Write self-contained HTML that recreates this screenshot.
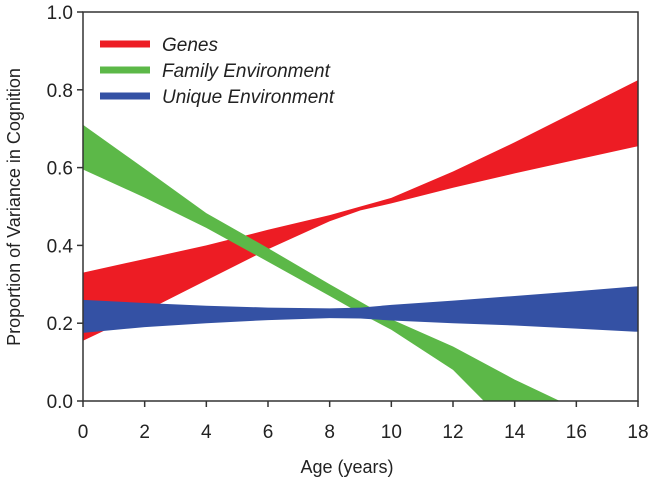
<!DOCTYPE html>
<html><head><meta charset="utf-8"><style>
html,body{margin:0;padding:0;background:#fff;}
svg{display:block;font-family:"Liberation Sans",Arial,sans-serif;}
</style></head><body>
<svg id="chart" width="654" height="483" viewBox="0 0 654 483">
<defs><clipPath id="plotclip"><rect x="83" y="12" width="555" height="389"/></clipPath></defs>
<g id="bands" clip-path="url(#plotclip)"></g>
<g id="axes"></g>
<g id="legend"></g>
</svg>
<script>
const ages = [0, 2, 4, 6, 8, 9, 10, 12, 14, 16, 18];
const genesUpper = [0.33, 0.365, 0.40, 0.44, 0.478, 0.50, 0.522, 0.59, 0.665, 0.745, 0.825];
const genesLower = [0.155, 0.23, 0.31, 0.39, 0.462, 0.49, 0.508, 0.548, 0.585, 0.62, 0.655];
const familyUpper = [0.71, 0.597, 0.483, 0.393, 0.30, 0.255, 0.21, 0.14, 0.055, -0.02, -0.09];
const familyLower = [0.595, 0.523, 0.445, 0.358, 0.27, 0.225, 0.183, 0.08, -0.08, -0.16, -0.24];
const uniqueUpper = [0.26, 0.252, 0.245, 0.24, 0.238, 0.24, 0.247, 0.258, 0.27, 0.282, 0.295];
const uniqueLower = [0.175, 0.19, 0.20, 0.208, 0.213, 0.212, 0.207, 0.2, 0.194, 0.186, 0.178];
const xTicks = [0, 2, 4, 6, 8, 10, 12, 14, 16, 18];
const yTicks = [0.0, 0.2, 0.4, 0.6, 0.8, 1.0];
const seriesNames = ["Genes", "Family Environment", "Unique Environment"];

const NS = "http://www.w3.org/2000/svg";
const X0 = 83, X1 = 638, Y0 = 401, Y1 = 12;
function xs(v){ return X0 + (v - 0) / 18 * (X1 - X0); }
function ys(v){ return Y0 - v * (Y0 - Y1); }
function mk(tag, attrs, parent){ const e = document.createElementNS(NS, tag); for (const k in attrs) e.setAttribute(k, attrs[k]); parent.appendChild(e); return e; }

const bands = document.getElementById('bands');
function band(up, lo, color, name){
  let d = "";
  ages.forEach((a,i)=>{ d += (i ? "L" : "M") + xs(a).toFixed(1) + "," + ys(up[i]).toFixed(1); });
  for (let i = ages.length - 1; i >= 0; i--) d += "L" + xs(ages[i]).toFixed(1) + "," + ys(lo[i]).toFixed(1);
  d += "Z";
  const p = mk('path', {d: d, fill: color}, bands);
  
  
}
band(genesUpper, genesLower, "#ed1c24", "genes-band");
band(familyUpper, familyLower, "#5cb848", "family-environment-band");
band(uniqueUpper, uniqueLower, "#3451a4", "unique-environment-band");

const axes = document.getElementById('axes');
const frame = mk('rect', {x: X0, y: Y1, width: X1 - X0, height: Y0 - Y1, fill: "none", stroke: "#333", "stroke-width": 1.5}, axes);


xTicks.forEach(t => {
  const l = mk('line', {x1: xs(t), x2: xs(t), y1: Y0, y2: Y0 + 6, stroke: "#333", "stroke-width": 1.5}, axes);
  
  
  const tx = mk('text', {x: xs(t), y: 438, "text-anchor": "middle", "font-size": 19, fill: "#222"}, axes);
  tx.textContent = t;
  
  
});
yTicks.forEach(t => {
  const l = mk('line', {x1: X0 - 6, x2: X0, y1: ys(t), y2: ys(t), stroke: "#333", "stroke-width": 1.5}, axes);
  
  
  const tx = mk('text', {x: 73, y: ys(t) + 7, "text-anchor": "end", "font-size": 19, fill: "#222"}, axes);
  tx.textContent = t.toFixed(1);
  
  
});
const xt = mk('text', {x: 347, y: 473, "text-anchor": "middle", "font-size": 18, fill: "#222"}, axes);
xt.textContent = "Age (years)";


const yt = mk('text', {x: 0, y: 0, "text-anchor": "middle", "font-size": 18, fill: "#222", transform: "translate(20,207) rotate(-90)"}, axes);
yt.textContent = "Proportion of Variance in Cognition";



const legend = document.getElementById('legend');
const colors = ["#ed1c24", "#5cb848", "#3451a4"];
seriesNames.forEach((n, i) => {
  const y = 44 + i * 26;
  const l = mk('line', {x1: 100, x2: 150, y1: y, y2: y, stroke: colors[i], "stroke-width": 7}, legend);
  
  
  const t = mk('text', {x: 162, y: y + 7, "font-size": 19, "font-style": "italic", fill: "#222"}, legend);
  t.textContent = n;
  
  
});
</script>
</body></html>
